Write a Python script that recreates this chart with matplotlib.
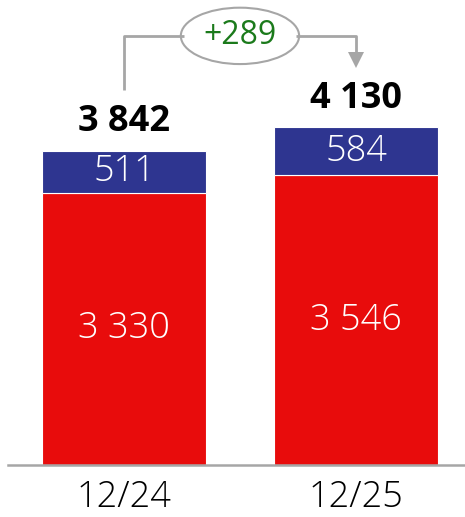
import matplotlib
matplotlib.use('Agg')
from matplotlib import pyplot as plt
from matplotlib.patches import Ellipse

periods = ['12/24', '12/25']
red_vals = [3330, 3546]
blue_vals = [511, 584]
totals = [3842, 4130]
delta_label = '+289'

red = '#E80C0C'
blue = '#2E3590'
grey = '#A6A6A6'
font = 'Open Sans'
fs = 26

fig = plt.figure(figsize=(4.65, 5.17), dpi=100, facecolor='white')
ax = fig.add_axes([8 / 465, 52 / 517, 457 / 465, 465 / 517])

x = list(range(len(periods)))
w = 0.707
ax.bar(x, red_vals, width=w, color=red, edgecolor='white', linewidth=0.8)
ax.bar(x, blue_vals, width=w, bottom=red_vals, color=blue, edgecolor='white', linewidth=0.8)

for i in x:
    ax.text(i, red_vals[i] / 2, f'{red_vals[i]:,}'.replace(',', ' '),
            ha='center', va='center', color='white', fontsize=fs, family=font, fontweight='light')
    ax.text(i, red_vals[i] + blue_vals[i] / 2, str(blue_vals[i]),
            ha='center', va='center', color='white', fontsize=fs, family=font, fontweight='light')
    ax.text(i, totals[i] + 350, f'{totals[i]:,}'.replace(',', ' '),
            ha='center', va='center', color='black', fontsize=fs, family=font, fontweight='bold')

# bracket with delta
top = 5251
ax.plot([0, 0, 0.26], [totals[0] + 745, top, top], color=grey, lw=2, solid_capstyle='butt')
tip = totals[1] + 729
ax.plot([0.74, 1, 1], [top, top, tip + 150], color=grey, lw=2, solid_capstyle='butt')
ax.plot(1, tip + 98, marker='v', markersize=11.5, color=grey, markeredgewidth=0)
ax.add_patch(Ellipse((0.5, top), 0.51, 690, facecolor='white', edgecolor=grey, lw=1.5))
ax.text(0.5, top, delta_label, ha='center', va='center', color='#1B7A1B', fontsize=23, family=font)

ax.set_xlim(-0.5, 1.47)
ax.set_ylim(0, 5690)
ax.set_yticks([])
ax.set_xticks(x)
ax.set_xticklabels(periods, fontsize=fs, family=font, fontweight='light')
ax.tick_params(axis='x', length=0, pad=10)
for s in ['top', 'right', 'left']:
    ax.spines[s].set_visible(False)
ax.spines['bottom'].set_color(grey)
ax.spines['bottom'].set_linewidth(1.8)

fig.savefig('out.png', dpi=100, facecolor='white')
